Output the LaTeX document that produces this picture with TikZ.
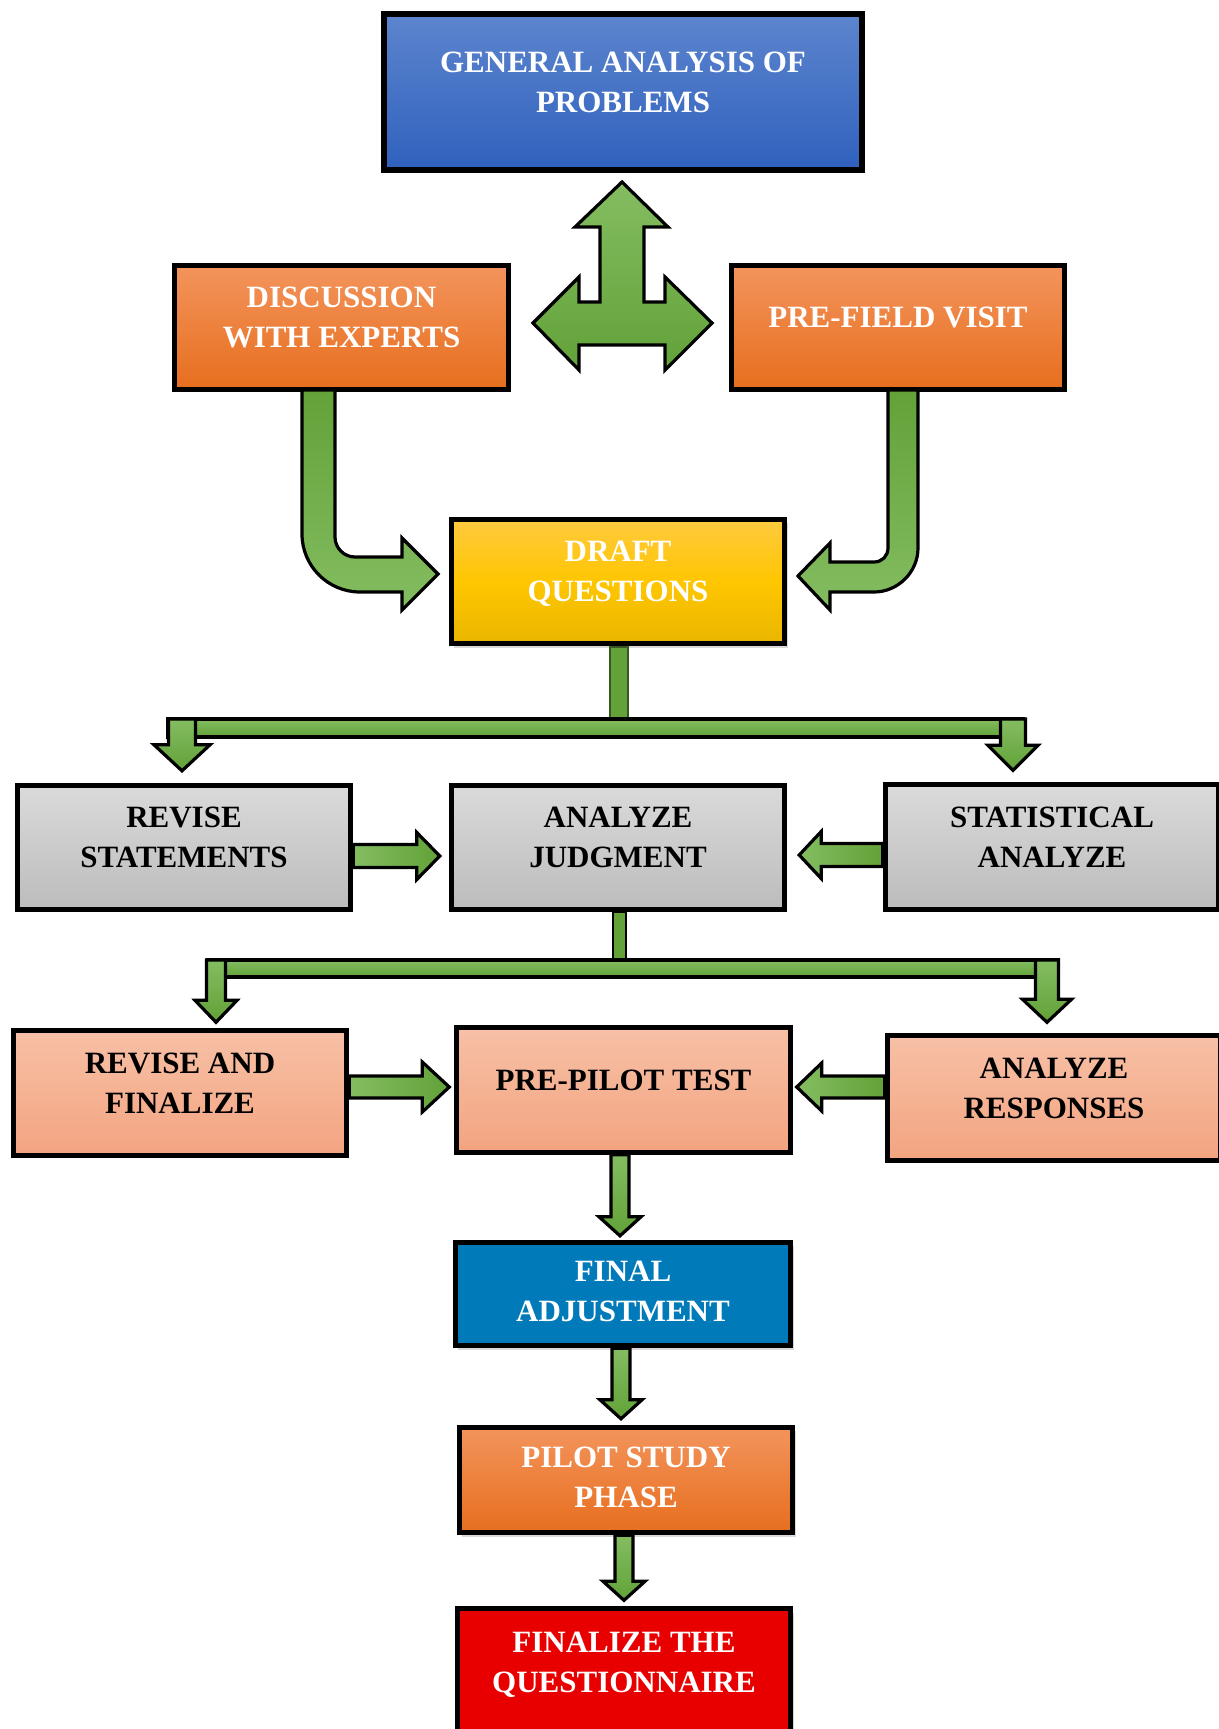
\documentclass[tikz,border=0pt]{standalone}
\usepackage{fontspec}
\setmainfont{Liberation Serif}
\usepackage{tikz}
\usetikzlibrary{calc,shadows}

\definecolor{blueA}{RGB}{93,133,206}
\definecolor{blueB}{RGB}{47,97,189}
\definecolor{orangeA}{RGB}{243,148,92}
\definecolor{orangeB}{RGB}{231,110,30}
\definecolor{yellowA}{RGB}{255,202,64}
\definecolor{yellowM}{RGB}{255,198,0}
\definecolor{yellowB}{RGB}{233,182,0}
\definecolor{grayA}{RGB}{218,218,218}
\definecolor{grayB}{RGB}{188,188,188}
\definecolor{salmonA}{RGB}{247,192,166}
\definecolor{salmonB}{RGB}{243,164,128}
\definecolor{adjblue}{RGB}{0,122,184}
\definecolor{finred}{RGB}{232,0,0}
\definecolor{greenA}{RGB}{132,189,97}
\definecolor{greenB}{RGB}{98,162,56}
\definecolor{stemgreen}{RGB}{56,87,35}

\newcommand\boxfont{\bfseries\fontsize{15.5}{20}\selectfont}
% text sits a little above the middle of each box
\newcommand\boxtext[2][4pt]{\raisebox{#1}[\height][\depth]{\begin{tabular}{@{}c@{}}#2\end{tabular}}}

% block arrows: #1 start, #2 tip, #3 half shaft, #4 half head, #5 head length
\newcommand\downblock[5]{\path[blockarrow] let \p1=(#1), \p2=(#2) in
    (\x2-#3,\y1) -- (\x2-#3,\y2+#5) -- (\x2-#4,\y2+#5) -- (\x2,\y2)
    -- (\x2+#4,\y2+#5) -- (\x2+#3,\y2+#5) -- (\x2+#3,\y1) -- cycle;}
\newcommand\rightblock[5]{\path[blockarrow, left color=greenA, right color=greenB] let \p1=(#1), \p2=(#2) in
    (\x1,\y2+#3) -- (\x2-#5,\y2+#3) -- (\x2-#5,\y2+#4) -- (\x2,\y2)
    -- (\x2-#5,\y2-#4) -- (\x2-#5,\y2-#3) -- (\x1,\y2-#3) -- cycle;}
\newcommand\leftblock[5]{\path[blockarrow, left color=greenA, right color=greenB] let \p1=(#1), \p2=(#2) in
    (\x1,\y2+#3) -- (\x2+#5,\y2+#3) -- (\x2+#5,\y2+#4) -- (\x2,\y2)
    -- (\x2+#5,\y2-#4) -- (\x2+#5,\y2-#3) -- (\x1,\y2-#3) -- cycle;}

\begin{document}
\begin{tikzpicture}[x=0.5pt, y=-0.5pt,
    box/.style={draw=black, line width=2.5pt, minimum width=166.7pt, minimum height=62.2pt,
        inner sep=0pt, font=\boxfont},
    bluebox/.style={box, top color=blueA, bottom color=blueB, text=white},
    orangebox/.style={box, top color=orangeA, bottom color=orangeB, text=white},
    yellowbox/.style={box, top color=yellowA, bottom color=yellowB, middle color=yellowM, text=white},
    graybox/.style={box, top color=grayA, bottom color=grayB, text=black},
    salmonbox/.style={box, top color=salmonA, bottom color=salmonB, text=black},
    boxshadow/.style={drop shadow={shadow xshift=1.5pt, shadow yshift=-2pt, opacity=.3}},
    blockarrow/.style={draw=black, line width=1.6pt, line join=miter, top color=greenA, bottom color=greenB}]
    \useasboundingbox (0,0) rectangle (1219,1729);
    \clip (0,0) rectangle (1219,1729);

    % nodes
    \node [bluebox, line width=3pt, minimum width=238.8pt, minimum height=77.8pt] (gen) at (623,92)
        {\boxtext{GENERAL ANALYSIS OF\\PROBLEMS}};
    \node [orangebox] (disc) at (341.5,327.5) {\boxtext{DISCUSSION\\WITH EXPERTS}};
    \node [orangebox] (pfv) at (898,327.5) {\boxtext{PRE-FIELD VISIT}};
    \node [yellowbox, boxshadow] (draft) at (618,581.5) {\boxtext{DRAFT\\QUESTIONS}};
    \node [graybox] (revst) at (184,847.5) {\boxtext{REVISE\\STATEMENTS}};
    \node [graybox] (anjud) at (618,847.5) {\boxtext{ANALYZE\\JUDGMENT}};
    \node [graybox] (stat) at (1052,847) {\boxtext{STATISTICAL\\ANALYZE}};
    \node [salmonbox] (revfin) at (180,1093) {\boxtext{REVISE AND\\FINALIZE}};
    \node [salmonbox] (prepilot) at (623.5,1090) {\boxtext{PRE-PILOT TEST}};
    \node [salmonbox] (anresp) at (1054,1098) {\boxtext{ANALYZE\\RESPONSES}};
    \node [box, fill=adjblue, text=white, boxshadow, minimum width=167.7pt, minimum height=51.7pt] (finadj)
        at (623,1294) {\boxtext[0.5pt]{FINAL\\ADJUSTMENT}};
    \node [orangebox, boxshadow, minimum height=52.7pt] (pilot) at (626,1480) {\boxtext[0.3pt]{PILOT STUDY\\PHASE}};
    \node [box, fill=finred, text=white, boxshadow, minimum height=63.2pt] (finq) at (624,1672)
        {\boxtext{FINALIZE THE\\QUESTIONNAIRE}};

    % three-way arrow under the top box
    \path [blockarrow] (622,182) -- (668,227) -- (644,227) -- (644,302) -- (665,302) -- (665,277)
        -- (712,323) -- (665,370) -- (665,345) -- (579,345) -- (579,370) -- (533,323) -- (579,277)
        -- (579,302) -- (600,302) -- (600,227) -- (575,227) -- cycle;

    % bent arrows into the draft
    \path [blockarrow, top color=greenB, bottom color=greenA] (302,390) -- (302,534)
        .. controls (302,566) and (328,592) .. (360,592) -- (402,592) -- (402,610) -- (438,574)
        -- (402,538) -- (402,557) -- (355,557) .. controls (344,557) and (335,548) .. (335,537)
        -- (335,390) -- cycle;
    \path [blockarrow, top color=greenB, bottom color=greenA] (918,390) -- (918,548)
        .. controls (918,572) and (898,592) .. (874,592) -- (830,592) -- (830,610) -- (798,576)
        -- (830,543) -- (830,562) -- (874,562) .. controls (882,562) and (888,556) .. (888,548)
        -- (888,390) -- cycle;

    % branch from the draft
    \coordinate (j1) at (619,719);
    \draw [draw=stemgreen, line width=0.8pt, fill=greenB] ($(draft.south)+(-8,1)$) rectangle ($(j1)+(9,0)$);
    \path [blockarrow] ($(j1)+(-451,0)$) rectangle ($(j1)+(404,18)$);
    \downblock{j1}{$(revst.north)+(-2,-12)$}{6.75pt}{14pt}{13pt}
    \downblock{j1}{$(stat.north)+(-39,-12)$}{6.25pt}{12.5pt}{12.5pt}

    \rightblock{revst.east}{$(anjud.west)+(-9,8.5)$}{5.75pt}{11.75pt}{11.5pt}
    \leftblock{stat.west}{$(anjud.east)+(12,7.5)$}{5.75pt}{11.75pt}{11pt}

    % branch from the judgment
    \coordinate (j2) at (619.5,960);
    \draw [line width=0.8pt, fill=greenB] ($(anjud.south)+(-5,0)$) rectangle ($(j2)+(6.5,0)$);
    \path [blockarrow] ($(j2)+(-411.5,0)$) rectangle ($(j2)+(438.5,17)$);
    \downblock{j2}{$(revfin.north)+(36,-6)$}{4.75pt}{10.5pt}{11pt}
    \downblock{j2}{$(anresp.north)+(-7,-11)$}{5.75pt}{12.25pt}{11.5pt}

    \rightblock{revfin.east}{$(prepilot.west)+(-5,-3)$}{5.5pt}{12.5pt}{13.5pt}
    \leftblock{anresp.west}{$(prepilot.east)+(4,-3)$}{5.5pt}{12pt}{12.5pt}

    % chain to the end
    \foreach \a/\b/\dx/\dy in {prepilot/finadj/-3/-4, finadj/pilot/-5/-6, pilot/finq/0/-6}
        {\downblock{\a.south}{$(\b.north)+(\dx,\dy)$}{4.5pt}{10.5pt}{9.5pt}}
\end{tikzpicture}
\end{document}
